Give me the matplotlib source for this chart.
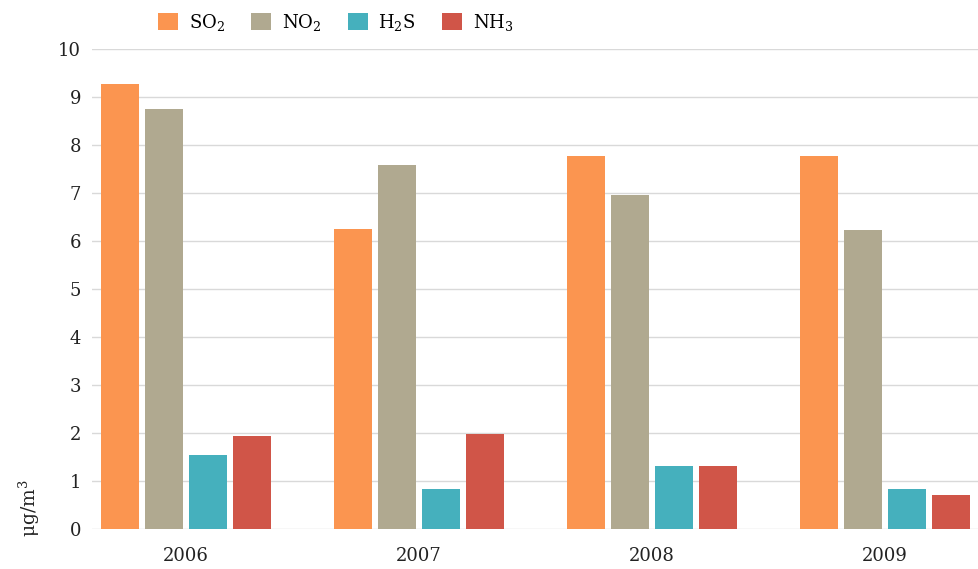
import numpy as np
import matplotlib.pyplot as plt

plt.rcParams['font.family'] = 'DejaVu Serif'
plt.rcParams['mathtext.fontset'] = 'dejavuserif'

years = ['2006', '2007', '2008', '2009']
so2 = [9.27, 6.25, 7.77, 7.77]
no2 = [8.75, 7.58, 6.96, 6.23]
h2s = [1.54, 0.83, 1.31, 0.83]
nh3 = [1.94, 1.98, 1.31, 0.71]

series = [so2, no2, h2s, nh3]
labels = ['SO$_2$', 'NO$_2$', 'H$_2$S', 'NH$_3$']
colors = ['#fb9550', '#b0a990', '#45b0bd', '#d05548']
txt = '#222222'

fig = plt.figure(figsize=(9.79, 5.69), dpi=100)
ax = fig.add_axes([0.094, 0.0703, 0.906, 0.8437])

x = np.arange(len(years))
w = 0.163
step = 0.189
for i, (vals, lab, c) in enumerate(zip(series, labels, colors)):
    ax.bar(x + (i - 1.5) * step, vals, width=w, color=c, label=lab, zorder=3)

ax.set_xlim(-0.403, 3.403)
ax.set_ylim(0, 10)
ax.set_yticks(range(0, 11))
ax.set_xticks(x)
ax.set_xticklabels(years)
ax.grid(axis='y', color='#d9d9d9', linewidth=1, zorder=0)
for s in ax.spines.values():
    s.set_visible(False)
ax.tick_params(axis='both', length=0, labelsize=13, colors=txt, pad=8)
ax.tick_params(axis='x', pad=13)

fig.text(0.03, 0.056, 'μg/m$^3$', rotation=90, ha='center', va='bottom',
         fontsize=13.5, color=txt)

fig.legend(loc='upper left', bbox_to_anchor=(0.145, 1.008), ncol=4, frameon=False,
           fontsize=13, handlelength=1.1, handleheight=1.1, columnspacing=1.45,
           handletextpad=0.6)

fig.savefig('out.png', dpi=100)
